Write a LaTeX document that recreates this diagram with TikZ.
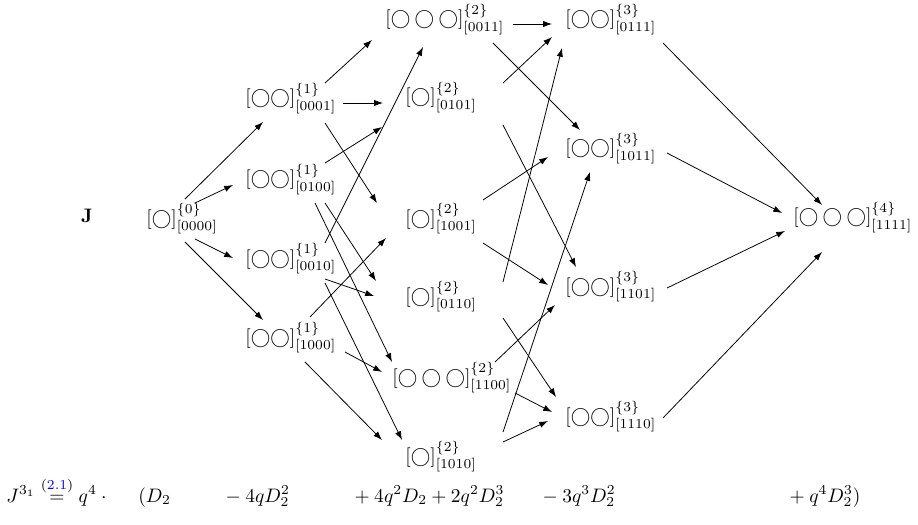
\documentclass[tikz,border=0pt]{standalone}
\usepackage{amsmath}
\usepackage{amssymb}
\usepackage{xcolor}
\usetikzlibrary{arrows.meta}

\begin{document}
\begin{tikzpicture}[x=0.018cm,y=-0.018cm,
  res/.style={inner sep=0pt,anchor=base west},
  cubemap/.style={-{Latex[length=4.5pt,width=3.2pt]}}]
\useasboundingbox (0,0) rectangle (918,524);
% resolutions of the cube
\node[inner sep=0pt,anchor=base] (J) at (87,222) {$\mathbf{J}$};
\node[res] (n0000) at (146,224) {$[\bigcirc]^{\{0\}}_{[0000]}$};
\node[res] (n0001) at (245,104) {$[\bigcirc\bigcirc]^{\{1\}}_{[0001]}$};
\node[res] (n0100) at (245,185) {$[\bigcirc\bigcirc]^{\{1\}}_{[0100]}$};
\node[res] (n0010) at (245,264) {$[\bigcirc\bigcirc]^{\{1\}}_{[0010]}$};
\node[res] (n1000) at (245,343) {$[\bigcirc\bigcirc]^{\{1\}}_{[1000]}$};
\node[res] (n0011) at (385,25) {$[\bigcirc\bigcirc\bigcirc]^{\{2\}}_{[0011]}$};
\node[res] (n0101) at (405,103) {$[\bigcirc]^{\{2\}}_{[0101]}$};
\node[res] (n1001) at (405,224) {$[\bigcirc]^{\{2\}}_{[1001]}$};
\node[res] (n0110) at (405,302) {$[\bigcirc]^{\{2\}}_{[0110]}$};
\node[res] (n1100) at (392,383) {$[\bigcirc\bigcirc\bigcirc]^{\{2\}}_{[1100]}$};
\node[res] (n1010) at (405,462) {$[\bigcirc]^{\{2\}}_{[1010]}$};
\node[res] (n0111) at (565,25) {$[\bigcirc\bigcirc]^{\{3\}}_{[0111]}$};
\node[res] (n1011) at (565,154) {$[\bigcirc\bigcirc]^{\{3\}}_{[1011]}$};
\node[res] (n1101) at (565,292) {$[\bigcirc\bigcirc]^{\{3\}}_{[1101]}$};
\node[res] (n1110) at (565,422) {$[\bigcirc\bigcirc]^{\{3\}}_{[1110]}$};
\node[res] (n1111) at (793,223) {$[\bigcirc\bigcirc\bigcirc]^{\{4\}}_{[1111]}$};
% the polynomial
\node[res] (eq0) at (6,502) {$J^{3_1}\overset{(\textcolor{blue}{2.1})}{=}q^4\cdot{}$};
\node[res] (eq1) at (138,502) {$(D_2$};
\node[res] (eq2) at (221,502) {${}-4qD_2^2$};
\node[res] (eq3) at (350,502) {${}+4q^2D_2+2q^2D_2^3$};
\node[res] (eq4) at (538,502) {${}-3q^3D_2^2$};
\node[res] (eq5) at (785,502) {${}+q^4D_2^3)$};
% maps 0 -> 1
\draw[cubemap] ([shift={(39,-25)}]n0000.base west) -- ([shift={(18,18)}]n0001.base west);
\draw[cubemap] ([shift={(49,-21)}]n0000.base west) -- ([shift={(-12,0)}]n0100.base west);
\draw[cubemap] ([shift={(49,15)}]n0000.base west) -- ([shift={(-12,-6)}]n0010.base west);
\draw[cubemap] ([shift={(39,18)}]n0000.base west) -- ([shift={(18,-23)}]n1000.base west);
% maps 1 -> 2
\draw[cubemap] ([shift={(80,-21)}]n0001.base west) -- ([shift={(-13,15)}]n0011.base west);
\draw[cubemap] ([shift={(98,-1)}]n0001.base west) -- ([shift={(-22,0)}]n0101.base west);
\draw[cubemap] ([shift={(80,19)}]n0001.base west) -- ([shift={(-28,-21)}]n1001.base west);
\draw[cubemap] ([shift={(80,-22)}]n0100.base west) -- ([shift={(-23,24)}]n0101.base west);
\draw[cubemap] ([shift={(80,18)}]n0100.base west) -- ([shift={(-29,-21)}]n0110.base west);
\draw[cubemap] ([shift={(70,18)}]n0100.base west) -- ([shift={(0,-21)}]n1100.base west);
\draw[cubemap] ([shift={(80,-21)}]n0010.base west) -- ([shift={(38,22)}]n0011.base west);
\draw[cubemap] ([shift={(80,15)}]n0010.base west) -- ([shift={(-31,-6)}]n0110.base west);
\draw[cubemap] ([shift={(80,19)}]n0010.base west) -- ([shift={(-3,-22)}]n1010.base west);
\draw[cubemap] ([shift={(65,-26)}]n1000.base west) -- ([shift={(-19,14)}]n1001.base west);
\draw[cubemap] ([shift={(100,9)}]n1000.base west) -- ([shift={(-10,-11)}]n1100.base west);
\draw[cubemap] ([shift={(60,19)}]n1000.base west) -- ([shift={(-23,-22)}]n1010.base west);
% maps 2 -> 3
\draw[cubemap] ([shift={(128,-1)}]n0011.base west) -- ([shift={(-13,-1)}]n0111.base west);
\draw[cubemap] ([shift={(108,18)}]n0011.base west) -- ([shift={(15,-24)}]n1011.base west);
\draw[cubemap] ([shift={(98,-20)}]n0101.base west) -- ([shift={(-13,12)}]n0111.base west);
\draw[cubemap] ([shift={(98,22)}]n0101.base west) -- ([shift={(11,-25)}]n1101.base west);
\draw[cubemap] ([shift={(78,-24)}]n1001.base west) -- ([shift={(-17,3)}]n1011.base west);
\draw[cubemap] ([shift={(78,19)}]n1001.base west) -- ([shift={(-17,-7)}]n1101.base west);
\draw[cubemap] ([shift={(98,-20)}]n0110.base west) -- ([shift={(-3,23)}]n0111.base west);
\draw[cubemap] ([shift={(98,16)}]n0110.base west) -- ([shift={(-9,-25)}]n1110.base west);
\draw[cubemap] ([shift={(103,-21)}]n1100.base west) -- ([shift={(-10,13)}]n1101.base west);
\draw[cubemap] ([shift={(123,10)}]n1100.base west) -- ([shift={(-13,-10)}]n1110.base west);
\draw[cubemap] ([shift={(98,-30)}]n1010.base west) -- ([shift={(25,18)}]n1011.base west);
\draw[cubemap] ([shift={(98,-20)}]n1010.base west) -- ([shift={(-17,-1)}]n1110.base west);
% maps 3 -> 4
\draw[cubemap] ([shift={(98,18)}]n0111.base west) -- ([shift={(29,-18)}]n1111.base west);
\draw[cubemap] ([shift={(102,-1)}]n1011.base west) -- ([shift={(-11,-10)}]n1111.base west);
\draw[cubemap] ([shift={(102,-4)}]n1101.base west) -- ([shift={(-8,8)}]n1111.base west);
\draw[cubemap] ([shift={(98,-4)}]n1110.base west) -- ([shift={(29,29)}]n1111.base west);
\end{tikzpicture}
\end{document}
